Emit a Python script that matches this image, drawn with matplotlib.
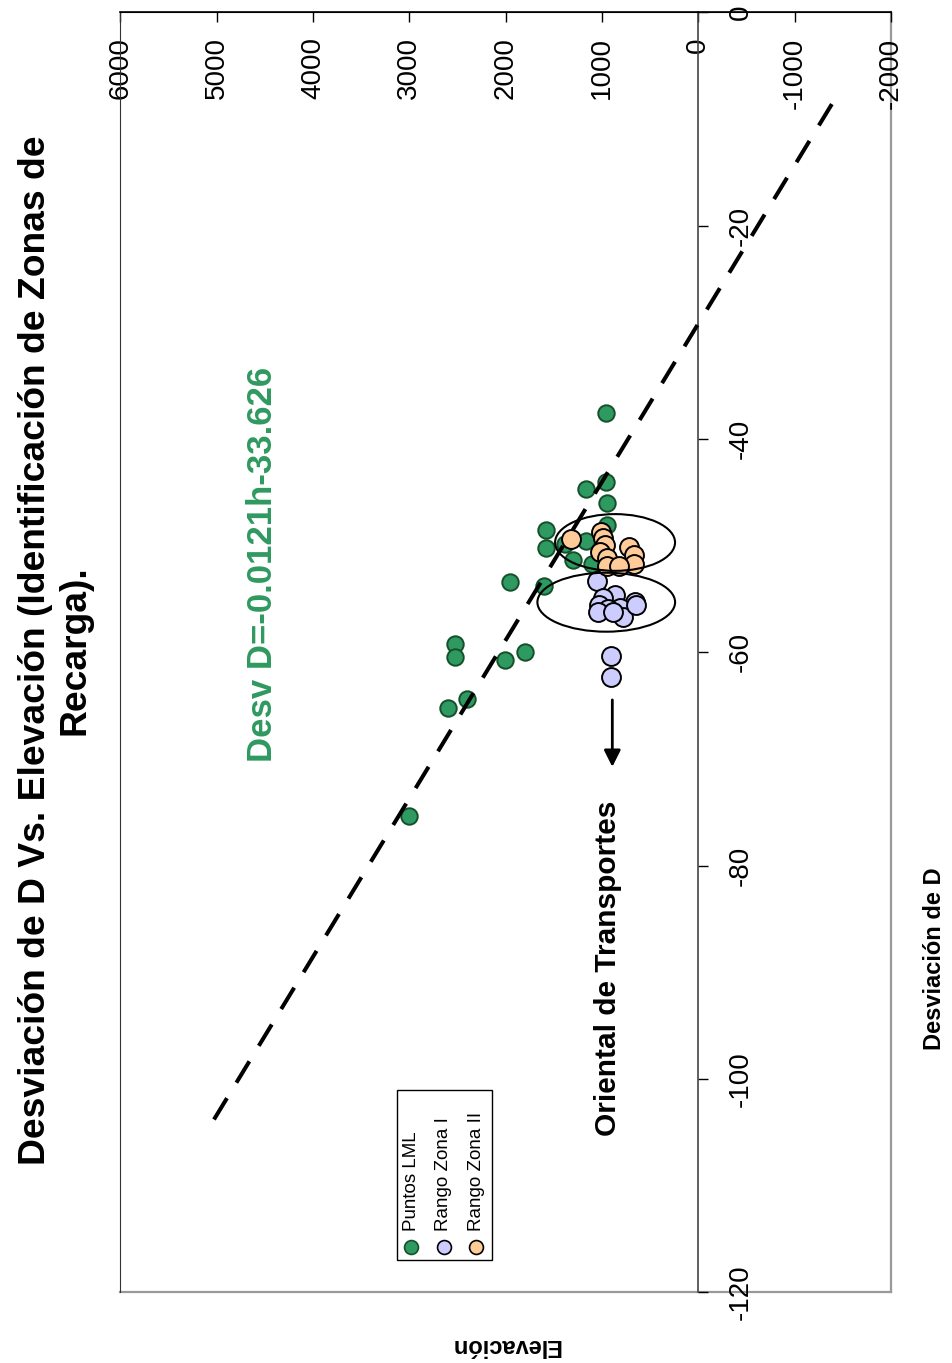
"""Desviacion de D vs Elevacion (grafico girado)"""
import matplotlib
matplotlib.use("Agg")
import matplotlib.pyplot as plt
from matplotlib.patches import Ellipse, Rectangle

plt.rcParams['font.family'] = ['Liberation Sans', 'DejaVu Sans']
plt.rcParams['axes.unicode_minus'] = False

# Datos (elevacion h, desviacion D)
lml_h = [961, 961, 1162, 948, 944, 1581, 1581, 1383, 1162, 1304, 1103,
         1954, 1601, 2522, 2522, 2003, 1799, 2397, 2601, 2999]
lml_d = [-37.6, -44.0, -44.7, -46.0, -48.1, -48.5, -50.2, -49.8, -49.6, -51.3, -51.7,
         -53.4, -53.8, -59.2, -60.4, -60.7, -60.0, -64.4, -65.2, -75.3]

zona1_h = [1048, 865, 986, 657, 1027, 813, 934, 1038, 778, 882, 647, 906, 906]
zona1_d = [-53.3, -54.6, -54.9, -55.3, -55.6, -55.8, -55.9, -56.2, -56.7, -56.2, -55.6,
           -60.3, -62.3]

zona2_h = [1321, 1010, 992, 968, 1020, 951, 716, 667, 667, 951, 820]
zona2_d = [-49.4, -48.7, -49.3, -49.9, -50.6, -51.2, -50.1, -50.9, -51.7, -51.9, -51.9]

recta_h = [5027, -1419]
recta_d = [-103.8, -8.1]

x_ticks = [6000, 5000, 4000, 3000, 2000, 1000, 0, -1000, -2000]
y_ticks = [0, -20, -40, -60, -80, -100, -120]

VERDE = '#2e9960'

fig = plt.figure(figsize=(9.52, 13.63), dpi=100)
ax = fig.add_axes([0.1263, 0.0519, 0.8097, 0.9390])
ax.set_xlim(6000, -2000)
ax.set_ylim(-120, 0)

# ejes cruzados en el origen
ax.spines['bottom'].set_position(('data', 0))
ax.spines['right'].set_position(('data', 0))
ax.spines['right'].set_linewidth(1.2)
ax.spines['right'].set_color('#444444')
ax.spines['bottom'].set_linewidth(1.2)
ax.spines['left'].set_color('#333333')
ax.xaxis.set_ticks_position('bottom')
ax.yaxis.set_ticks_position('right')
ax.set_xticks(x_ticks)
ax.set_yticks(y_ticks)
ax.set_xticklabels([str(t) for t in x_ticks], rotation=90)
ax.set_yticklabels([str(t) for t in y_ticks], rotation=90, va='center')
ax.tick_params(axis='x', direction='out', length=7, width=1, labelsize=20, pad=11)
ax.tick_params(axis='y', direction='out', length=7, width=1, labelsize=20, pad=14)

# borde gris del area
ax.plot([1, 1], [0, 1], transform=ax.transAxes, color='#999999', lw=1.6, clip_on=False, zorder=1)
ax.plot([0, 1], [0, 0], transform=ax.transAxes, color='#999999', lw=1.6, clip_on=False, zorder=1)

ax.scatter(lml_h, lml_d, s=140, color=VERDE, edgecolors='#15502a', linewidths=1.4, zorder=3)
ax.scatter(zona1_h, zona1_d, s=185, color='#ccccff', edgecolors='black', linewidths=1.4, zorder=4)
ax.scatter(zona2_h, zona2_d, s=185, color='#ffcc99', edgecolors='black', linewidths=1.4, zorder=4)

ax.add_patch(Ellipse((864.5, -49.7), 1245, 5.32, fill=False, ec='black', lw=1.5, zorder=5))
ax.add_patch(Ellipse((956, -55.3), 1429, 5.53, fill=False, ec='black', lw=1.5, zorder=5))

ax.plot(recta_h, recta_d, color='black', lw=2.9, linestyle=(0, (6.2, 4.5)), zorder=6)

ax.annotate('', xy=(893, -71.0), xytext=(893, -64.2),
            arrowprops=dict(arrowstyle='-|>', color='black', lw=2, mutation_scale=25))

ax.text(0.184, 0.569, 'Desv D=-0.0121h-33.626', transform=ax.transAxes, rotation=90,
        ha='center', va='center', fontsize=25, fontweight='bold', color=VERDE)
ax.text(0.633, 0.2534, 'Oriental de Transportes', transform=ax.transAxes, rotation=90,
        ha='center', va='center', fontsize=21.5, fontweight='bold')

# leyenda girada
ax.add_patch(Rectangle((0.359, 0.0252), 0.123, 0.1328, transform=ax.transAxes,
                       fill=False, ec='black', lw=1, zorder=7))
leyenda = [('Puntos LML', VERDE, '#15502a'), ('Rango Zona I', '#ccccff', 'black'),
           ('Rango Zona II', '#ffcc99', 'black')]
for k, (nombre, color, borde) in enumerate(leyenda):
    xl = 0.3773 + k * 0.0422
    ax.scatter([xl], [0.0353], transform=ax.transAxes, s=100, color=color,
               edgecolors=borde, linewidths=1.2, zorder=8, clip_on=False)
    ax.text(xl, 0.0475, nombre, transform=ax.transAxes, rotation=90,
            ha='center', va='bottom', fontsize=13.5)

fig.text(0.058, 0.523, 'Desviación de D Vs. Elevación (Identificación de Zonas de\nRecarga).',
         rotation=90, ha='center', va='center', multialignment='center',
         fontsize=26.8, fontweight='bold', linespacing=1.2)
fig.text(0.5305, 0.0125, 'Elevación', rotation=180, ha='center', va='center',
         fontsize=17, fontweight='bold')
fig.text(0.982, 0.297, 'Desviación de D', rotation=90, ha='center', va='center',
         fontsize=17, fontweight='bold')

fig.savefig('out.png', dpi=100)
